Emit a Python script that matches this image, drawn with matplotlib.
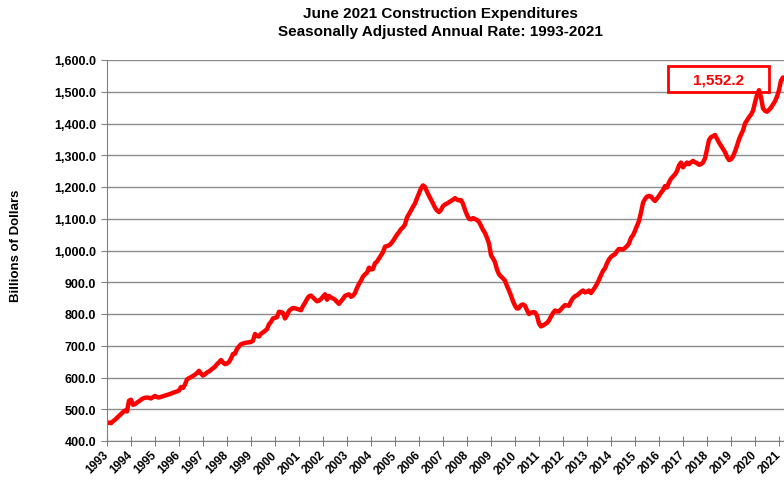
import numpy as np
import matplotlib
matplotlib.use('Agg')
import matplotlib.pyplot as plt
from matplotlib.patches import Rectangle

plt.rcParams['font.family'] = ['Liberation Sans', 'DejaVu Sans']
plt.rcParams['font.weight'] = 'bold'

# monthly values, billions of dollars (SAAR), Jan 1993 - Jun 2021
y1993 = [457, 458, 456, 462, 467, 473, 479, 485, 491, 496, 493, 527]
y1994 = [530, 514, 516, 521, 525, 530, 534, 536, 537, 536, 534, 538]
y1995 = [542, 538, 537, 539, 541, 543, 545, 547, 549, 552, 554, 556]
y1996 = [559, 570, 567, 578, 594, 598, 601, 605, 609, 614, 621, 612]
y1997 = [606, 610, 616, 619, 624, 629, 634, 642, 648, 655, 647, 642]
y1998 = [644, 649, 660, 674, 675, 690, 698, 705, 707, 709, 710, 711]
y1999 = [712, 716, 737, 731, 729, 738, 742, 747, 752, 768, 775, 786]
y2000 = [788, 790, 807, 806, 803, 786, 796, 810, 815, 819, 818, 816]
y2001 = [814, 812, 825, 835, 847, 856, 858, 852, 846, 840, 842, 847]
y2002 = [855, 862, 845, 857, 852, 849, 845, 838, 832, 840, 848, 857]
y2003 = [860, 862, 854, 858, 866, 882, 895, 905, 918, 925, 930, 946]
y2004 = [940, 942, 960, 965, 975, 985, 995, 1012, 1014, 1016, 1022, 1030]
y2005 = [1040, 1050, 1058, 1067, 1073, 1082, 1104, 1115, 1126, 1138, 1148, 1165]
y2006 = [1180, 1196, 1205, 1200, 1185, 1172, 1160, 1148, 1135, 1126, 1121, 1128]
y2007 = [1140, 1145, 1148, 1152, 1156, 1160, 1165, 1160, 1158, 1159, 1147, 1128]
y2008 = [1112, 1100, 1098, 1102, 1099, 1096, 1090, 1078, 1065, 1055, 1040, 1022]
y2009 = [985, 975, 963, 940, 925, 918, 912, 905, 888, 874, 858, 840]
y2010 = [826, 817, 819, 828, 830, 826, 812, 800, 804, 806, 805, 795]
y2011 = [770, 761, 764, 768, 772, 780, 792, 803, 811, 808, 808, 815]
y2012 = [822, 828, 827, 826, 840, 850, 856, 859, 864, 870, 874, 868]
y2013 = [870, 874, 866, 875, 884, 895, 908, 922, 936, 944, 960, 972]
y2014 = [980, 985, 988, 998, 1005, 1004, 1003, 1008, 1014, 1022, 1040, 1048]
y2015 = [1062, 1078, 1093, 1120, 1150, 1162, 1170, 1172, 1170, 1162, 1156, 1164]
y2016 = [1172, 1182, 1190, 1203, 1198, 1215, 1226, 1233, 1240, 1250, 1268, 1277]
y2017 = [1262, 1270, 1277, 1272, 1278, 1282, 1278, 1275, 1270, 1272, 1277, 1290]
y2018 = [1318, 1348, 1357, 1360, 1364, 1352, 1340, 1330, 1320, 1310, 1295, 1285]
y2019 = [1287, 1296, 1312, 1330, 1350, 1365, 1378, 1400, 1410, 1420, 1428, 1440]
y2020 = [1466, 1490, 1505, 1482, 1448, 1440, 1437, 1443, 1450, 1460, 1470, 1485]
y2021 = [1505, 1535, 1545, 1541, 1548, 1552.2]

values = (y1993 + y1994 + y1995 + y1996 + y1997 + y1998 + y1999 + y2000 +
          y2001 + y2002 + y2003 + y2004 + y2005 + y2006 + y2007 + y2008 +
          y2009 + y2010 + y2011 + y2012 + y2013 + y2014 + y2015 + y2016 +
          y2017 + y2018 + y2019 + y2020 + y2021)
years = list(range(1993, 2022))
months = np.arange(len(values))

fig = plt.figure(figsize=(7.84, 4.81), dpi=100)
ax = fig.add_axes([107 / 784, 39 / 481, 682 / 784, 381 / 481])

ax.plot(months, values, color='#FF0000', lw=3.2, solid_joinstyle='round')

ax.set_xlim(0, 341)
ax.set_ylim(400, 1600)
ax.set_yticks(np.arange(400, 1601, 100))
ax.set_yticklabels([f'{v:,.1f}' for v in np.arange(400, 1601, 100)], fontsize=9, fontweight='bold')
ax.set_xticks(np.arange(0, len(years) * 12, 12)[:len(years)])
ax.set_xticklabels([str(y) for y in years], rotation=45, ha='right', va='center',
                   rotation_mode='anchor', fontsize=8.5, fontweight='bold')
ax.tick_params(axis='x', direction='inout', length=7, color='#808080', pad=5)
ax.tick_params(axis='y', direction='out', length=4, color='#808080', pad=4)

ax.grid(axis='y', color='#8c8c8c', lw=1)
ax.set_axisbelow(True)
for side in ['top', 'right']:
    ax.spines[side].set_visible(False)
for side in ['left', 'bottom']:
    ax.spines[side].set_color('#808080')

fig.text(16 / 784, 0.488, 'Billions of Dollars', rotation=90, ha='center', va='center',
         fontsize=9.5, fontweight='bold')
fig.text(0.562, 1 - 7 / 481, 'June 2021 Construction Expenditures\nSeasonally Adjusted Annual Rate: 1993-2021',
         ha='center', va='top', fontsize=11, fontweight='bold', linespacing=1.35)

# callout box with latest value
ax.add_patch(Rectangle((280.5, 1500), 50.5, 81, fill=False, edgecolor='#FF0000', lw=2, clip_on=False))
ax.text(305.75, 1540, f'{values[-1]:,.1f}', color='#FF0000', fontsize=11, fontweight='bold',
        ha='center', va='center')

fig.savefig('out.png', dpi=100)
